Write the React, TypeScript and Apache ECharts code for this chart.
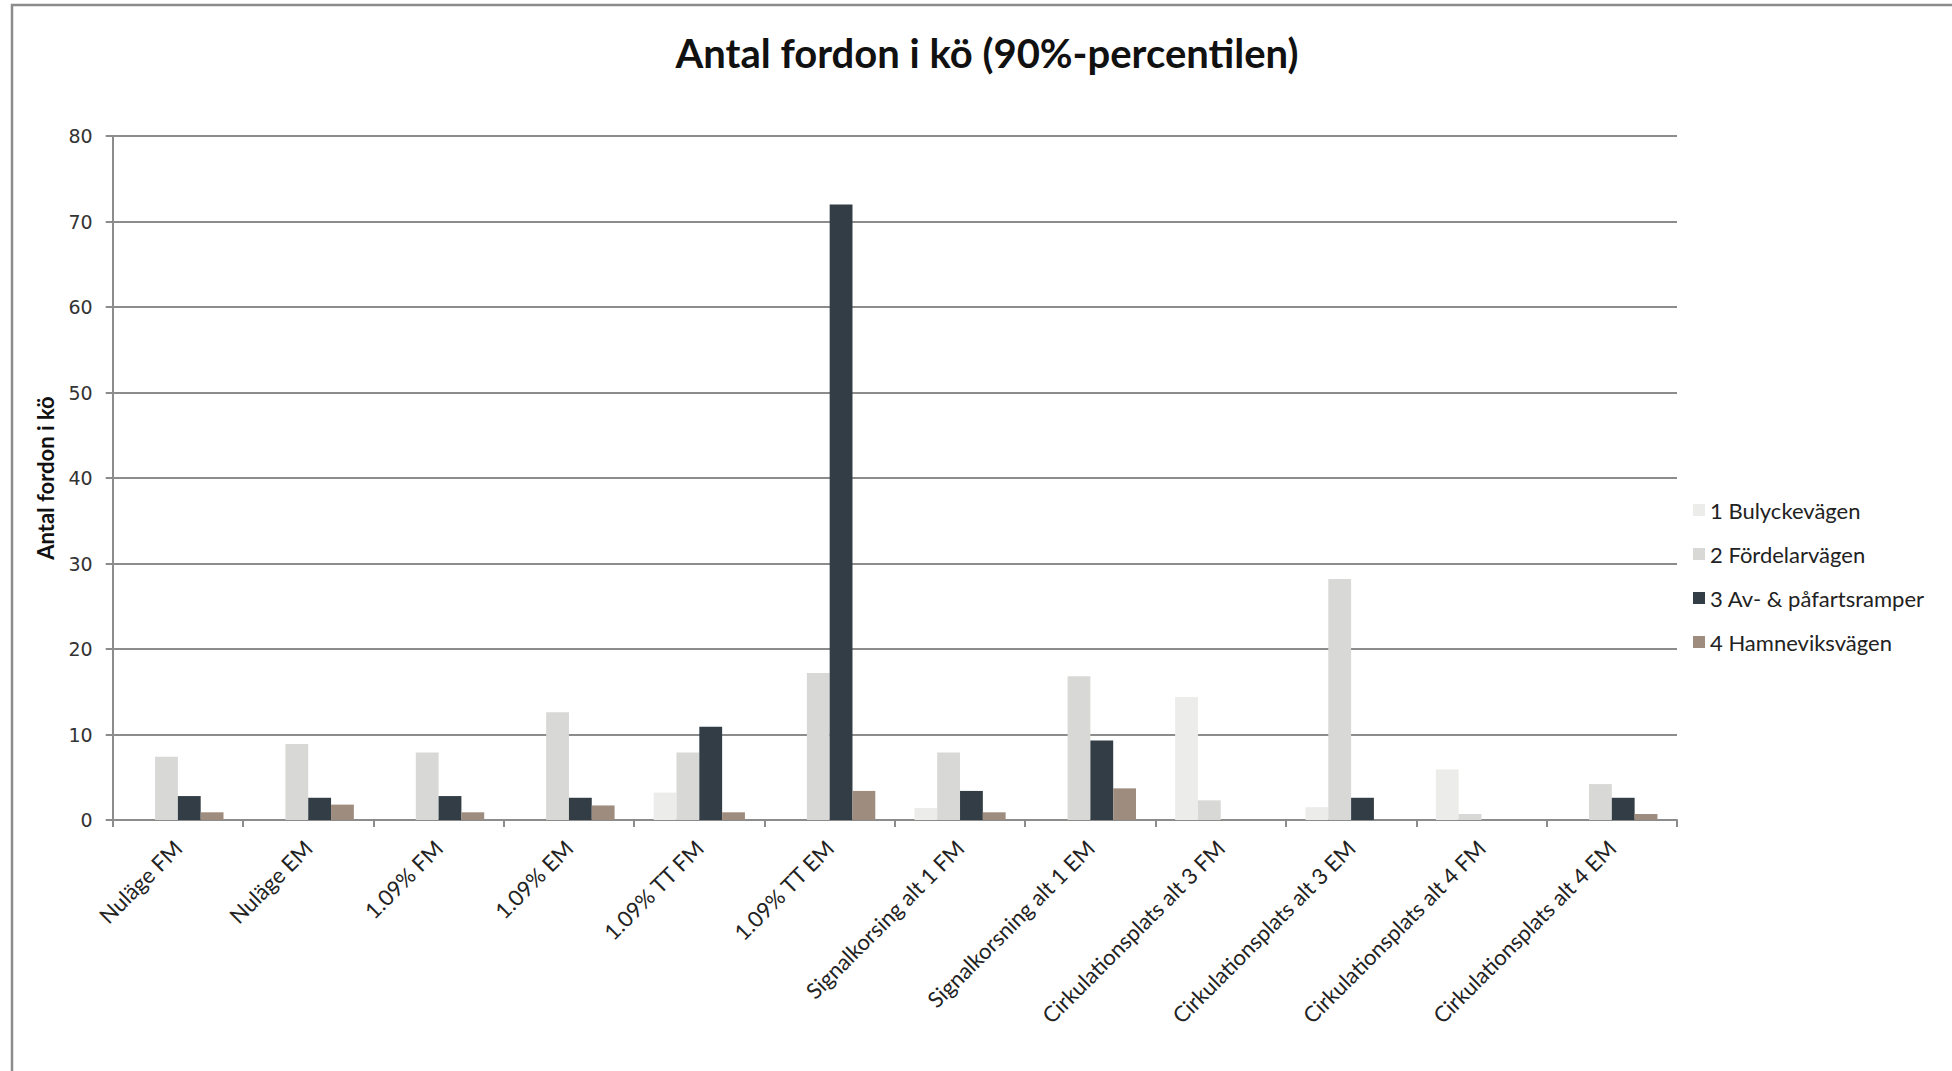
import React, { useEffect, useRef } from "react";
import * as echarts from "echarts";

// Queue length scenarios (90th percentile), one group per scenario
const categories = [
  "Nuläge FM",
  "Nuläge EM",
  "1.09% FM",
  "1.09% EM",
  "1.09% TT FM",
  "1.09% TT EM",
  "Signalkorsing alt 1 FM",
  "Signalkorsning alt 1 EM",
  "Cirkulationsplats alt 3 FM",
  "Cirkulationsplats alt 3 EM",
  "Cirkulationsplats alt 4 FM",
  "Cirkulationsplats alt 4 EM",
];

const seriesNames = [
  "1 Bulyckevägen",
  "2 Fördelarvägen",
  "3 Av- & påfartsramper",
  "4 Hamneviksvägen",
];

const bulyckevagen = [0, 0, 0, 0, 3.2, 0, 1.4, 0, 14.4, 1.5, 5.9, 0];
const fordelarvagen = [7.4, 8.9, 7.9, 12.6, 7.9, 17.2, 7.9, 16.8, 2.3, 28.2, 0.7, 4.2];
const ramper = [2.8, 2.6, 2.8, 2.6, 10.9, 72, 3.4, 9.3, 0, 2.6, 0, 2.6];
const hamneviksvagen = [0.9, 1.8, 0.9, 1.7, 0.9, 3.4, 0.9, 3.7, 0, 0, 0, 0.7];

const yTicks = [0, 10, 20, 30, 40, 50, 60, 70, 80];

const colors = ["#ECECEA", "#D8D8D6", "#323D46", "#9E8C7E"];

const W = 1952;
const H = 1071;

export default function App() {
  const ref = useRef<HTMLDivElement>(null);

  useEffect(() => {
    if (!ref.current) return;
    const chart = echarts.init(ref.current, undefined, { renderer: "svg", width: W, height: H });
    const values = [bulyckevagen, fordelarvagen, ramper, hamneviksvagen];
    const labelFont = "Lato, 'Open Sans', sans-serif";
    const gridColor = "#8C8C8C";

    chart.setOption({
      animation: false,
      backgroundColor: "#FFFFFF",
      color: colors,
      title: {
        text: "Antal fordon i kö (90%-percentilen)",
        left: 982,
        top: 28,
        textAlign: "center",
        textStyle: {
          fontFamily: labelFont,
          fontWeight: "bold",
          fontSize: 40,
          color: "#111111",
        },
      },
      graphic: [
        {
          type: "rect",
          shape: { x: 12, y: 5, width: 2100, height: 1200 },
          style: { fill: "none", stroke: "#8C8C8C", lineWidth: 2.5 },
          silent: true,
        },
      ],
      legend: {
        orient: "vertical",
        left: 1688,
        top: 494,
        itemWidth: 12,
        itemHeight: 12,
        itemGap: 22,
        icon: "rect",
        data: seriesNames,
        textStyle: { fontFamily: labelFont, fontSize: 22, color: "#222222" },
      },
      grid: {
        left: 112.7,
        right: W - 1677,
        top: 136,
        bottom: H - 820,
        containLabel: false,
      },
      xAxis: {
        type: "category",
        data: categories,
        axisLine: { show: true, lineStyle: { color: gridColor, width: 2 } },
        axisTick: { show: true, length: 7, lineStyle: { color: gridColor, width: 2 } },
        axisLabel: {
          rotate: 45,
          margin: 24,
          interval: 0,
          fontFamily: labelFont,
          fontSize: 22,
          color: "#222222",
        },
        splitLine: { show: false },
      },
      yAxis: {
        type: "value",
        min: yTicks[0],
        max: yTicks[yTicks.length - 1],
        interval: yTicks[1] - yTicks[0],
        name: "Antal fordon i kö",
        nameLocation: "middle",
        nameRotate: 90,
        nameGap: 56,
        nameTextStyle: {
          fontFamily: labelFont,
          fontWeight: "bold",
          fontSize: 22,
          color: "#111111",
        },
        axisLine: { show: true, lineStyle: { color: gridColor, width: 2 } },
        axisTick: { show: true, length: 7, lineStyle: { color: gridColor, width: 2 } },
        axisLabel: {
          margin: 20,
          fontFamily: "'DejaVu Sans', sans-serif",
          fontSize: 19,
          color: "#333333",
        },
        splitLine: { show: true, lineStyle: { color: gridColor, width: 2 } },
      },
      series: seriesNames.map((name, i) => ({
        name,
        type: "bar",
        data: values[i],
        barGap: "0%",
        barCategoryGap: "30%",
        itemStyle: { color: colors[i] },
      })),
    });

    return () => {
      chart.dispose();
    };
  }, []);

  return (
    <div
      ref={ref}
      style={{ position: "fixed", left: 0, top: 0, width: W, height: H, background: "#fff" }}
    />
  );
}
